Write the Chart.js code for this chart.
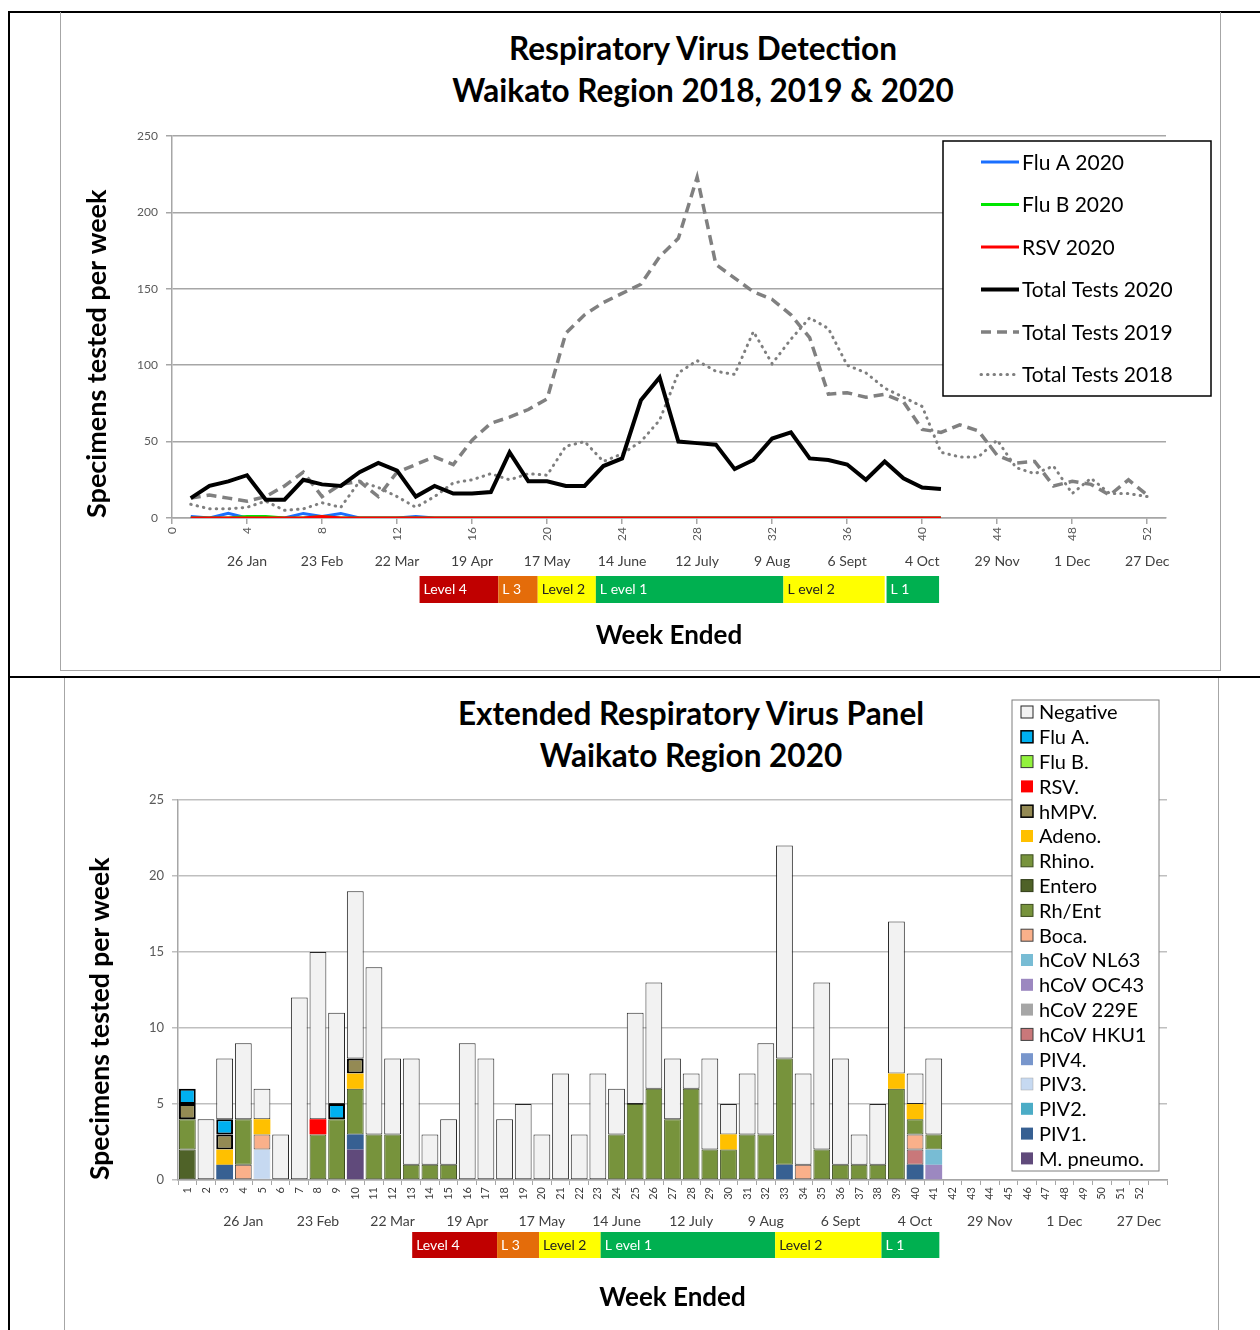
<!DOCTYPE html>
<html>
<head>
<meta charset="utf-8">
<title>Respiratory Virus Detection - Waikato 2020</title>
<script src="https://cdn.jsdelivr.net/npm/chart.js@4.4.1/dist/chart.umd.min.js"></script>
<style>
  body { margin: 0; background: #fff; font-family: Lato, 'Open Sans', sans-serif; }
  #page { position: relative; width: 1260px; height: 1330px; overflow: hidden; }
  .rule { position: absolute; background: #000; }
  .frame { position: absolute; box-sizing: border-box; border: 1px solid #a6a6a6; }
  canvas { position: absolute; }
  .title { position: absolute; transform: translateX(-50%); white-space: nowrap; text-align: center;
           font-weight: bold; font-size: 31.5px; line-height: 42px; color: #000; }
</style>
</head>
<body>
<div id="page">
  <div class="rule" style="left:8px;top:11px;width:1252px;height:2px"></div>
  <div class="rule" style="left:8px;top:11px;width:2px;height:1319px"></div>
  <div class="rule" style="left:8px;top:676px;width:1252px;height:2px"></div>
  <div class="frame" style="left:60px;top:12px;width:1161px;height:659px;border-top:none"></div>
  <div class="frame" style="left:64px;top:678px;width:1155px;height:652px;border-top:none;border-bottom:none"></div>

  <div class="title" style="left:703px;top:27px">Respiratory Virus Detection<br>Waikato Region 2018, 2019 &amp; 2020</div>
  <canvas id="topChart" width="1159" height="657" style="left:61px;top:13px"></canvas>

  <div class="title" style="left:691px;top:692px">Extended Respiratory Virus Panel<br>Waikato Region 2020</div>
  <canvas id="bottomChart" width="1153" height="651" style="left:65px;top:679px"></canvas>
</div>

<script>
(function() {
	'use strict';

	// ---- data: weekly totals (top chart) ----
	var weeks = [1, 2, 3, 4, 5, 6, 7, 8, 9, 10, 11, 12, 13, 14, 15, 16, 17, 18, 19, 20, 21, 22, 23, 24, 25, 26,
		27, 28, 29, 30, 31, 32, 33, 34, 35, 36, 37, 38, 39, 40, 41, 42, 43, 44, 45, 46, 47, 48, 49, 50, 51, 52];
	var weekTicks = [0, 4, 8, 12, 16, 20, 24, 28, 32, 36, 40, 44, 48, 52];
	var dateTicks = [4, 8, 12, 16, 20, 24, 28, 32, 36, 40, 44, 48, 52];
	var dateLabels = ['26 Jan', '23 Feb', '22 Mar', '19 Apr', '17 May', '14 June', '12 July', '9 Aug',
		'6 Sept', '4 Oct', '29 Nov', '1 Dec', '27 Dec'];

	var fluA2020 = [1, 0, 3, 0, 0, 0, 3, 1, 3, 0, 0, 0, 1, 0, 0, 0, 0, 0, 0, 0, 0, 0, 0, 0, 0, 0, 0, 0, 0, 0,
		0, 0, 0, 0, 0, 0, 0, 0, 0, 0, 0];
	var fluB2020 = [0, 0, 0, 1, 1, 0, 0, 1, 0, 0, 0, 0, 0, 0, 0, 0, 0, 0, 0, 0, 0, 0, 0, 0, 0, 0, 0, 0, 0, 0,
		0, 0, 0, 0, 0, 0, 0, 0, 0, 0, 0];
	var rsv2020 = [0, 0, 0, 0, 0, 0, 0, 1, 0, 0, 0, 0, 0, 0, 0, 0, 0, 0, 0, 0, 0, 0, 0, 0, 0, 0, 0, 0, 0, 0,
		0, 0, 0, 0, 0, 0, 0, 0, 0, 0, 0];
	var total2020 = [13, 21, 24, 28, 12, 12, 25, 22, 21, 30, 36, 31, 14, 21, 16, 16, 17, 43, 24, 24, 21, 21, 34,
		39, 77, 92, 50, 49, 48, 32, 38, 52, 56, 39, 38, 35, 25, 37, 26, 20, 19];
	var total2019 = [13, 15, 13, 11, 14, 21, 30, 14, 22, 24, 14, 30, 35, 40, 35, 51, 62, 66, 71, 78, 121, 133,
		141, 147, 153, 171, 183, 223, 166, 157, 148, 143, 133, 118, 81, 82, 79, 81, 76, 58, 56, 61, 57, 41, 36,
		37, 21, 24, 22, 15, 25, 15];
	var total2018 = [9, 6, 6, 7, 11, 5, 6, 10, 7, 24, 20, 14, 7, 14, 23, 25, 29, 25, 29, 28, 47, 50, 37, 42, 50,
		64, 95, 103, 96, 94, 122, 101, 117, 131, 124, 100, 95, 85, 79, 73, 43, 40, 40, 51, 33, 29, 34, 16, 26, 16,
		16, 14];

	// ---- data: extended panel (bottom chart), weeks 1..41 ----
	var weekLabels = ['1', '2', '3', '4', '5', '6', '7', '8', '9', '10', '11', '12', '13', '14', '15', '16', '17',
		'18', '19', '20', '21', '22', '23', '24', '25', '26', '27', '28', '29', '30', '31', '32', '33', '34', '35',
		'36', '37', '38', '39', '40', '41', '42', '43', '44', '45', '46', '47', '48', '49', '50', '51', '52', ''];

	var negative = [0, 4, 4, 5, 2, 3, 12, 11, 6, 11, 11, 5, 7, 2, 3, 9, 8, 4, 5, 3, 7, 3, 7, 3, 6, 7, 4, 1, 6, 2,
		4, 6, 14, 6, 11, 7, 2, 4, 10, 2, 5];
	var fluA = [1, 0, 1, 0, 0, 0, 0, 0, 1, 0, 0, 0, 0, 0, 0, 0, 0, 0, 0, 0, 0, 0, 0, 0, 0, 0, 0, 0, 0, 0,
		0, 0, 0, 0, 0, 0, 0, 0, 0, 0, 0];
	var fluB = [0, 0, 0, 0, 0, 0, 0, 0, 0, 0, 0, 0, 0, 0, 0, 0, 0, 0, 0, 0, 0, 0, 0, 0, 0, 0, 0, 0, 0, 0,
		0, 0, 0, 0, 0, 0, 0, 0, 0, 0, 0];
	var rsv = [0, 0, 0, 0, 0, 0, 0, 1, 0, 0, 0, 0, 0, 0, 0, 0, 0, 0, 0, 0, 0, 0, 0, 0, 0, 0, 0, 0, 0, 0,
		0, 0, 0, 0, 0, 0, 0, 0, 0, 0, 0];
	var hmpv = [1, 0, 1, 0, 0, 0, 0, 0, 0, 1, 0, 0, 0, 0, 0, 0, 0, 0, 0, 0, 0, 0, 0, 0, 0, 0, 0, 0, 0, 0,
		0, 0, 0, 0, 0, 0, 0, 0, 0, 0, 0];
	var adeno = [0, 0, 1, 0, 1, 0, 0, 0, 0, 1, 0, 0, 0, 0, 0, 0, 0, 0, 0, 0, 0, 0, 0, 0, 0, 0, 0, 0, 0, 1,
		0, 0, 0, 0, 0, 0, 0, 0, 1, 1, 0];
	var rhino = [2, 0, 0, 3, 0, 0, 0, 3, 4, 3, 3, 3, 1, 1, 1, 0, 0, 0, 0, 0, 0, 0, 0, 3, 5, 6, 4, 6, 2, 2,
		3, 3, 7, 0, 2, 1, 1, 1, 6, 1, 1];
	var entero = [2, 0, 0, 0, 0, 0, 0, 0, 0, 0, 0, 0, 0, 0, 0, 0, 0, 0, 0, 0, 0, 0, 0, 0, 0, 0, 0, 0, 0, 0,
		0, 0, 0, 0, 0, 0, 0, 0, 0, 0, 0];
	var rhEnt = [0, 0, 0, 0, 0, 0, 0, 0, 0, 0, 0, 0, 0, 0, 0, 0, 0, 0, 0, 0, 0, 0, 0, 0, 0, 0, 0, 0, 0, 0,
		0, 0, 0, 0, 0, 0, 0, 0, 0, 0, 0];
	var boca = [0, 0, 0, 1, 1, 0, 0, 0, 0, 0, 0, 0, 0, 0, 0, 0, 0, 0, 0, 0, 0, 0, 0, 0, 0, 0, 0, 0, 0, 0,
		0, 0, 0, 1, 0, 0, 0, 0, 0, 1, 0];
	var hcovNL63 = [0, 0, 0, 0, 0, 0, 0, 0, 0, 0, 0, 0, 0, 0, 0, 0, 0, 0, 0, 0, 0, 0, 0, 0, 0, 0, 0, 0, 0, 0,
		0, 0, 0, 0, 0, 0, 0, 0, 0, 0, 1];
	var hcovOC43 = [0, 0, 0, 0, 0, 0, 0, 0, 0, 0, 0, 0, 0, 0, 0, 0, 0, 0, 0, 0, 0, 0, 0, 0, 0, 0, 0, 0, 0, 0,
		0, 0, 0, 0, 0, 0, 0, 0, 0, 0, 1];
	var hcov229E = [0, 0, 0, 0, 0, 0, 0, 0, 0, 0, 0, 0, 0, 0, 0, 0, 0, 0, 0, 0, 0, 0, 0, 0, 0, 0, 0, 0, 0, 0,
		0, 0, 0, 0, 0, 0, 0, 0, 0, 0, 0];
	var hcovHKU1 = [0, 0, 0, 0, 0, 0, 0, 0, 0, 0, 0, 0, 0, 0, 0, 0, 0, 0, 0, 0, 0, 0, 0, 0, 0, 0, 0, 0, 0, 0,
		0, 0, 0, 0, 0, 0, 0, 0, 0, 1, 0];
	var piv4 = [0, 0, 0, 0, 0, 0, 0, 0, 0, 0, 0, 0, 0, 0, 0, 0, 0, 0, 0, 0, 0, 0, 0, 0, 0, 0, 0, 0, 0, 0,
		0, 0, 0, 0, 0, 0, 0, 0, 0, 0, 0];
	var piv3 = [0, 0, 0, 0, 2, 0, 0, 0, 0, 0, 0, 0, 0, 0, 0, 0, 0, 0, 0, 0, 0, 0, 0, 0, 0, 0, 0, 0, 0, 0,
		0, 0, 0, 0, 0, 0, 0, 0, 0, 0, 0];
	var piv2 = [0, 0, 0, 0, 0, 0, 0, 0, 0, 0, 0, 0, 0, 0, 0, 0, 0, 0, 0, 0, 0, 0, 0, 0, 0, 0, 0, 0, 0, 0,
		0, 0, 0, 0, 0, 0, 0, 0, 0, 0, 0];
	var piv1 = [0, 0, 1, 0, 0, 0, 0, 0, 0, 1, 0, 0, 0, 0, 0, 0, 0, 0, 0, 0, 0, 0, 0, 0, 0, 0, 0, 0, 0, 0,
		0, 0, 1, 0, 0, 0, 0, 0, 0, 1, 0];
	var mPneumo = [0, 0, 0, 0, 0, 0, 0, 0, 0, 2, 0, 0, 0, 0, 0, 0, 0, 0, 0, 0, 0, 0, 0, 0, 0, 0, 0, 0, 0, 0,
		0, 0, 0, 0, 0, 0, 0, 0, 0, 0, 0];

	// ---- Covid alert levels (week ranges) ----
	var levelLabelsTop = ['Level 4', 'L 3', 'Level 2', 'L evel 1', 'L evel 2', 'L 1'];
	var levelStartTop = [13.2, 17.4, 19.5, 22.6, 32.6, 38.1];
	var levelEndTop = [17.4, 19.5, 22.6, 32.6, 38.0, 40.9];
	var levelLabelsBottom = ['Level 4', 'L 3', 'Level 2', 'L evel 1', 'Level 2', 'L 1'];
	var levelStartBottom = [13.05, 17.6, 19.85, 23.15, 32.5, 38.2];
	var levelEndBottom = [17.6, 19.85, 23.15, 32.5, 38.2, 41.3];
	var levelFills = ['#c00000', '#e46c0a', '#ffff00', '#00b050', '#ffff00', '#00b050'];
	var levelText = ['#ffffff', '#ffffff', '#222222', '#ffffff', '#222222', '#ffffff'];

	var FONT = "Lato, 'Open Sans', sans-serif";
	Chart.defaults.font.family = FONT;
	Chart.defaults.color = '#404040';

	function pts(vals) {
		return vals.map(function(v, i) { return { x: weeks[i], y: v }; });
	}

	// draws the alert level strip under the x axis
	var levelsPlugin = {
		id: 'levels',
		afterDraw: function(chart, args, o) {
			var ctx = chart.ctx;
			var sc = chart.scales.xDate;
			var y = chart.chartArea.bottom + o.offset;
			ctx.save();
			ctx.font = '14px ' + FONT;
			ctx.textBaseline = 'middle';
			for (var i = 0; i < o.labels.length; i++) {
				var x0 = sc.getPixelForValue(o.starts[i]);
				var x1 = sc.getPixelForValue(o.ends[i]);
				ctx.fillStyle = levelFills[i];
				ctx.fillRect(x0, y, x1 - x0, o.height);
				ctx.fillStyle = levelText[i];
				ctx.fillText(o.labels[i], x0 + 4, y + o.height / 2);
			}
			ctx.restore();
		}
	};

	// boxed legend drawn inside the chart
	var boxLegendPlugin = {
		id: 'boxLegend',
		afterDraw: function(chart, args, o) {
			var ctx = chart.ctx;
			var sets = chart.data.datasets.slice();
			if (o.reverse) sets.reverse();
			ctx.save();
			ctx.fillStyle = '#ffffff';
			ctx.fillRect(o.x, o.y, o.w, o.h);
			ctx.strokeStyle = o.borderColor;
			ctx.lineWidth = o.borderWidth;
			ctx.strokeRect(o.x, o.y, o.w, o.h);
			ctx.font = o.fontSize + 'px ' + FONT;
			ctx.textBaseline = 'middle';
			sets.forEach(function(ds, i) {
				var cy = o.y + o.first + i * o.gap;
				if (o.kind === 'line') {
					ctx.beginPath();
					ctx.strokeStyle = ds.borderColor;
					ctx.lineWidth = ds.borderWidth;
					ctx.lineCap = ds.borderCapStyle || 'butt';
					ctx.setLineDash(ds.borderDash || []);
					ctx.moveTo(o.x + o.sx0, cy);
					ctx.lineTo(o.x + o.sx1, cy);
					ctx.stroke();
					ctx.setLineDash([]);
				} else {
					ctx.fillStyle = ds.backgroundColor;
					ctx.fillRect(o.x + o.sx0, cy - 6, 12, 12);
					if (ds.borderWidth) {
						ctx.strokeStyle = ds.borderColor;
						ctx.lineWidth = Math.min(ds.borderWidth, 1.5);
						ctx.strokeRect(o.x + o.sx0, cy - 6, 12, 12);
					}
				}
				ctx.fillStyle = '#000000';
				ctx.fillText(ds.label, o.x + o.tx, cy + 1);
			});
			ctx.restore();
		}
	};

	// ---- top chart: weekly totals ----
	new Chart(document.getElementById('topChart').getContext('2d'), {
		type: 'line',
		plugins: [levelsPlugin, boxLegendPlugin],
		data: {
			datasets: [
				{ label: 'Flu A 2020', data: pts(fluA2020), borderColor: '#1a6fff', borderWidth: 3, order: 3 },
				{ label: 'Flu B 2020', data: pts(fluB2020), borderColor: '#00e600', borderWidth: 3, order: 2 },
				{ label: 'RSV 2020', data: pts(rsv2020), borderColor: '#ff0000', borderWidth: 3, order: 1 },
				{ label: 'Total Tests 2020', data: pts(total2020), borderColor: '#000000', borderWidth: 4, order: 0 },
				{ label: 'Total Tests 2019', data: pts(total2019), borderColor: '#808080', borderWidth: 3.5,
					borderDash: [10, 6], order: 4 },
				{ label: 'Total Tests 2018', data: pts(total2018), borderColor: '#7f7f7f', borderWidth: 3,
					borderDash: [0.5, 6], borderCapStyle: 'round', order: 5 }
			]
		},
		options: {
			responsive: false,
			animation: false,
			layout: { padding: { top: 123, right: 54, bottom: 0, left: 0 } },
			elements: { point: { radius: 0 }, line: { tension: 0 } },
			plugins: {
				legend: { display: false },
				tooltip: { enabled: false },
				levels: { labels: levelLabelsTop, starts: levelStartTop, ends: levelEndTop, offset: 58, height: 27 },
				boxLegend: { kind: 'line', x: 882, y: 128, w: 268, h: 255, first: 21, gap: 42.5,
					sx0: 38, sx1: 76, tx: 79, fontSize: 21, borderColor: '#000000', borderWidth: 1.5 }
			},
			scales: {
				x: {
					type: 'linear', position: 'bottom', min: 0, max: 53,
					afterBuildTicks: function(s) { s.ticks = weekTicks.map(function(v) { return { value: v }; }); },
					afterFit: function(s) { s.height = 32; },
					grid: { drawOnChartArea: false, color: '#a6a6a6', lineWidth: 1.5, tickLength: 6 },
					border: { color: '#a6a6a6', width: 1.5 },
					ticks: { autoSkip: false, minRotation: 90, maxRotation: 90, padding: 3,
						font: { size: 12 }, color: '#595959' }
				},
				xDate: {
					type: 'linear', position: 'bottom', min: 0, max: 53, offset: false,
					afterBuildTicks: function(s) { s.ticks = dateTicks.map(function(v) { return { value: v }; }); },
					afterFit: function(s) { s.height = 120; },
					grid: { display: false, drawTicks: false },
					border: { display: false },
					ticks: { autoSkip: false, maxRotation: 0, padding: 3, font: { size: 14 }, color: '#404040',
						callback: function(v, i) { return dateLabels[i]; } },
					title: { display: true, text: 'Week Ended', color: '#000000',
						font: { size: 26, weight: 'bold' }, padding: { top: 0, bottom: 19 } }
				},
				y: {
					min: 0, max: 250,
					afterFit: function(s) { s.width = 111; },
					grid: { color: '#a6a6a6', lineWidth: 1.5, tickLength: 6 },
					border: { color: '#a6a6a6', width: 1.5 },
					ticks: { stepSize: 50, padding: 8, font: { size: 12 }, color: '#595959' },
					title: { display: true, text: 'Specimens tested per week', align: 'start', color: '#000000',
						font: { size: 27, weight: 'bold' }, padding: { top: 20, bottom: 0 } }
				}
			}
		}
	});

	// ---- bottom chart: extended panel, stacked from the bottom up ----
	var stackSeries = [
		['M. pneumo.', mPneumo, '#604a7b', '#604a7b', 0],
		['PIV1.', piv1, '#376092', '#376092', 0],
		['PIV2.', piv2, '#4bacc6', '#4bacc6', 0],
		['PIV3.', piv3, '#c6d9f1', '#a6a6a6', 0.5],
		['PIV4.', piv4, '#7896cc', '#7896cc', 0],
		['hCoV HKU1', hcovHKU1, '#c9787a', '#404040', 1],
		['hCoV 229E', hcov229E, '#a6a6a6', '#a6a6a6', 0],
		['hCoV OC43', hcovOC43, '#9c88c0', '#9c88c0', 0],
		['hCoV NL63', hcovNL63, '#78bcd4', '#78bcd4', 0],
		['Boca.', boca, '#fab08a', '#404040', 1],
		['Rh/Ent', rhEnt, '#77933c', '#3b4a1e', 1],
		['Entero', entero, '#4f6228', '#2f3b17', 1],
		['Rhino.', rhino, '#77933c', '#3b4a1e', 1],
		['Adeno.', adeno, '#ffc000', '#ffc000', 0],
		['hMPV.', hmpv, '#948a54', '#000000', 2],
		['RSV.', rsv, '#ff0000', '#ff0000', 0],
		['Flu B.', fluB, '#92f23c', '#333333', 1],
		['Flu A.', fluA, '#00b0f0', '#000000', 2],
		['Negative', negative, '#f2f2f2', '#262626', 1]
	];

	new Chart(document.getElementById('bottomChart').getContext('2d'), {
		type: 'bar',
		plugins: [levelsPlugin, boxLegendPlugin],
		data: {
			labels: weekLabels,
			datasets: stackSeries.map(function(s) {
				// zero counts are left out so empty segments draw no border
				return { label: s[0], data: s[1].map(function(v) { return v === 0 ? null : v; }),
					backgroundColor: s[2], borderColor: s[3], borderWidth: s[4],
					borderSkipped: false, xAxisID: 'x', barPercentage: 0.9, categoryPercentage: 1.0 };
			})
		},
		options: {
			responsive: false,
			animation: false,
			layout: { padding: { top: 121, right: 51, bottom: 0, left: 0 } },
			plugins: {
				legend: { display: false },
				tooltip: { enabled: false },
				levels: { labels: levelLabelsBottom, starts: levelStartBottom, ends: levelEndBottom, offset: 52, height: 26 },
				boxLegend: { kind: 'box', reverse: true, x: 947, y: 21, w: 147, h: 471, first: 12, gap: 24.8,
					sx0: 9, tx: 27, fontSize: 20, borderColor: '#7f7f7f', borderWidth: 1 }
			},
			scales: {
				x: {
					type: 'category', stacked: true, offset: true,
					afterFit: function(s) { s.height = 28; },
					grid: { offset: true, drawOnChartArea: false, color: '#a6a6a6', tickLength: 5 },
					border: { color: '#a6a6a6', width: 1.5 },
					ticks: { autoSkip: false, minRotation: 90, maxRotation: 90, padding: 2,
						font: { size: 11 }, color: '#404040' }
				},
				xDate: {
					type: 'linear', position: 'bottom', min: 0.5, max: 53.5, offset: false,
					afterBuildTicks: function(s) { s.ticks = dateTicks.map(function(v) { return { value: v }; }); },
					afterFit: function(s) { s.height = 122; },
					grid: { display: false, drawTicks: false },
					border: { display: false },
					ticks: { autoSkip: false, maxRotation: 0, padding: 5, font: { size: 14 }, color: '#404040',
						callback: function(v, i) { return dateLabels[i]; } },
					title: { display: true, text: 'Week Ended', color: '#000000',
						font: { size: 26, weight: 'bold' }, padding: { top: 0, bottom: 17 } }
				},
				y: {
					stacked: true, min: 0, max: 25,
					afterFit: function(s) { s.width = 113; },
					grid: { color: '#bfbfbf', lineWidth: 1.5, tickLength: 6 },
					border: { color: '#a6a6a6', width: 1.5 },
					ticks: { stepSize: 5, padding: 8, font: { size: 13 }, color: '#595959' },
					title: { display: true, text: 'Specimens tested per week', align: 'start', color: '#000000',
						font: { size: 26.5, weight: 'bold' }, padding: { top: 20, bottom: 0 } }
				}
			}
		}
	});
})();
</script>
</body>
</html>
